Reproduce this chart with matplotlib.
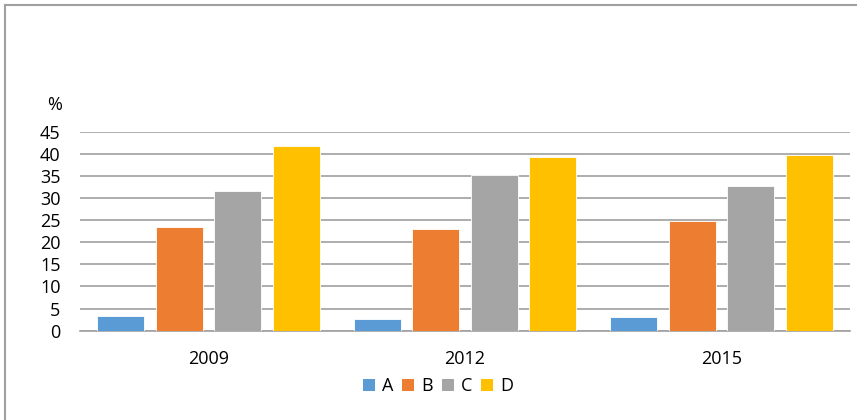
import matplotlib
matplotlib.use("Agg")
import matplotlib.pyplot as plt
from matplotlib.lines import Line2D
from matplotlib.patches import Patch
import numpy as np

years = ["2009", "2012", "2015"]
series = ["A", "B", "C", "D"]
values_A = [3.4, 2.6, 3.0]
values_B = [23.4, 22.9, 24.7]
values_C = [31.5, 35.1, 32.7]
values_D = [41.7, 39.3, 39.7]
colors = ["#5B9BD5", "#ED7D31", "#A5A5A5", "#FFC000"]
yticks = [0, 5, 10, 15, 20, 25, 30, 35, 40, 45]

plt.rcParams['font.family'] = ['Open Sans', 'DejaVu Sans']
FS = 13
W, H = 857, 420
fig = plt.figure(figsize=(W / 100, H / 100), dpi=100)
ax = fig.add_axes([80 / W, 1 - 330.7 / H, (850 - 80) / W, (330.7 - 131.7) / H])

all_vals = [values_A, values_B, values_C, values_D]
x = np.arange(len(years))
step = 0.228
width = 0.183
offsets = (np.arange(4) - 1.5) * step
for i, (vals, c) in enumerate(zip(all_vals, colors)):
    ax.bar(x + offsets[i], vals, width, color=c, edgecolor='white', linewidth=0.6, zorder=3, label=series[i])

ax.set_xlim(-0.5, 2.5)
ax.set_ylim(0, 45)
ax.set_yticks(yticks)
ax.set_xticks(x)
ax.set_xticklabels(years)
ax.tick_params(axis='both', length=0, labelsize=FS, colors='#000000')
ax.tick_params(axis='y', pad=14)
ax.tick_params(axis='x', pad=14)
ax.grid(axis='y', color='#A0A0A0', linewidth=1.2, zorder=0)
for s in ['top', 'right', 'left']:
    ax.spines[s].set_visible(False)
ax.spines['bottom'].set_color('#A0A0A0')
ax.spines['bottom'].set_linewidth(1.2)

fig.text(54.5 / W, 1 - 105.5 / H, "%", fontsize=FS, ha='center', va='center')

handles = [Patch(facecolor=c, edgecolor='none') for c in colors]
fig.legend(handles, series, loc='center', bbox_to_anchor=(438 / W, 1 - 386 / H),
           ncol=4, frameon=False, fontsize=FS, handlelength=0.65, handleheight=0.65,
           handletextpad=0.4, columnspacing=0.5)

# border lines
fig.add_artist(Line2D([5 / W, 1], [1 - 5 / H, 1 - 5 / H], color='#A0A0A0', linewidth=1.5, transform=fig.transFigure))
fig.add_artist(Line2D([5 / W, 5 / W], [0, 1 - 5 / H], color='#A0A0A0', linewidth=1.5, transform=fig.transFigure))

fig.savefig("out.png", dpi=100)
